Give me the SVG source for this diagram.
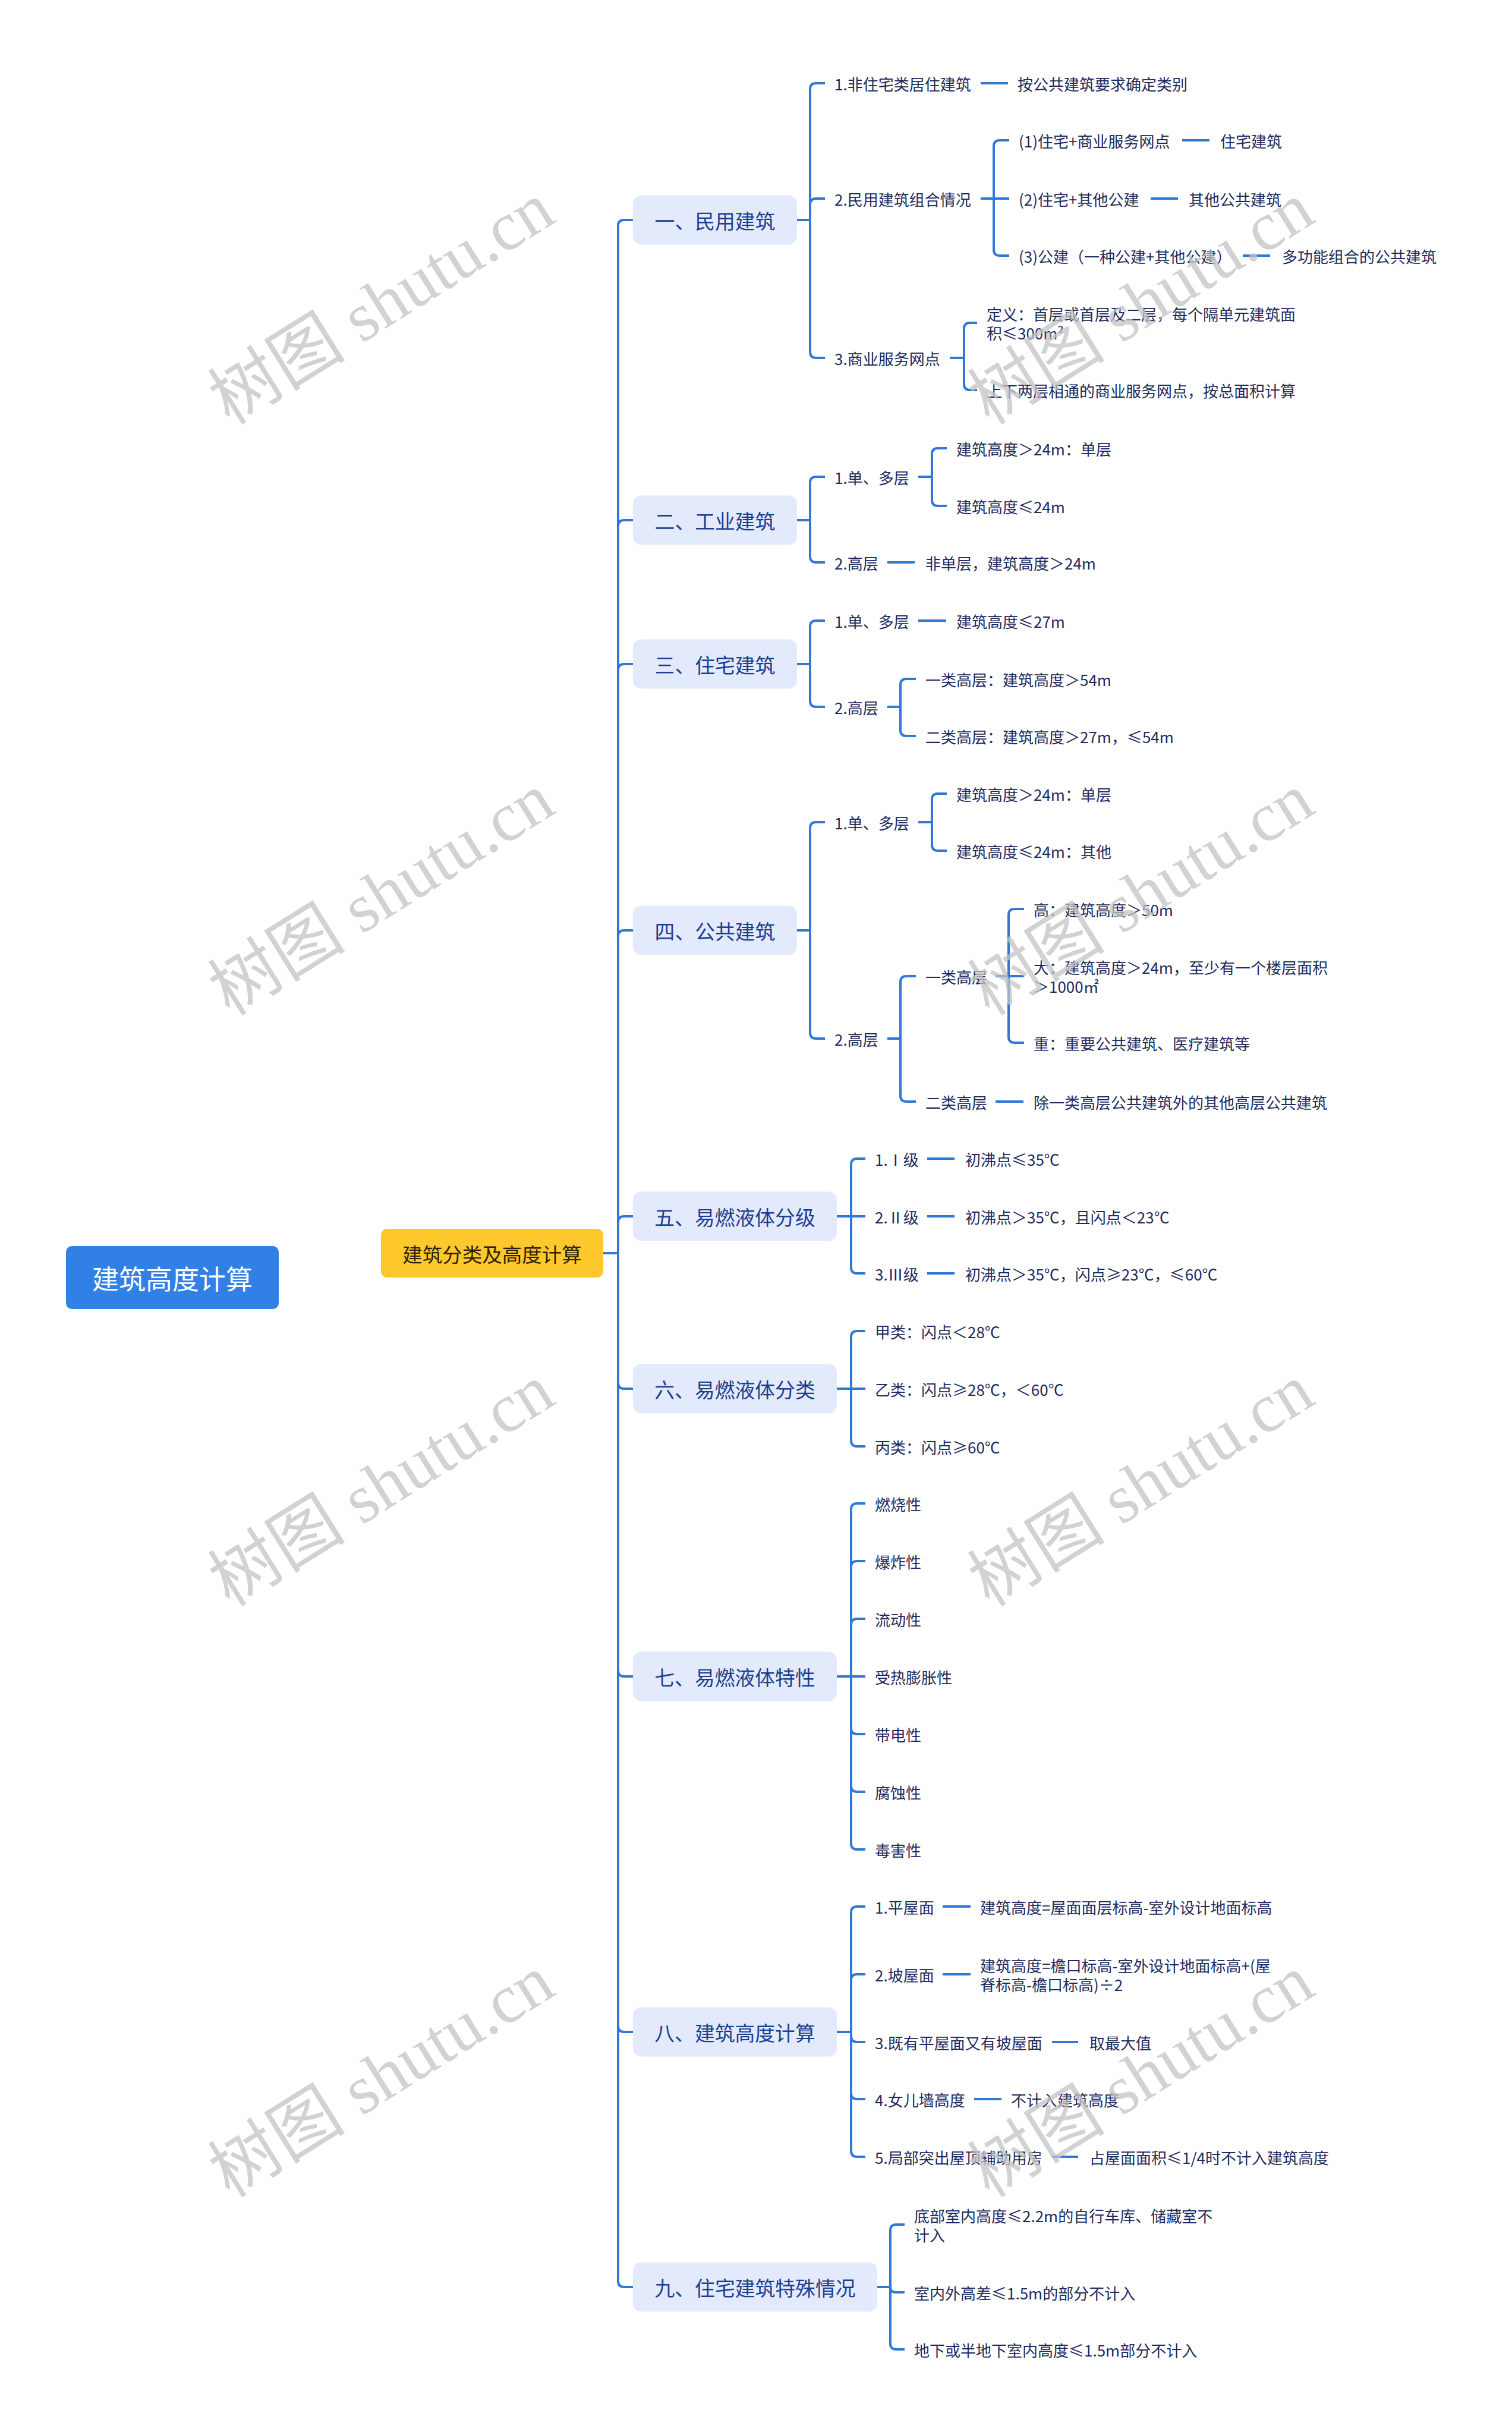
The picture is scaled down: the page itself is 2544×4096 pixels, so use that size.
<svg xmlns="http://www.w3.org/2000/svg" width="2544" height="4096" viewBox="0 0 2544 4096">
<style>
text { font-family: "Noto Sans CJK SC", "Noto Sans", sans-serif; dominant-baseline: central; }
.t2 { font-size: 26px; fill: #1D2A5C; }
.t1 { font-size: 33.8px; fill: #1C3E91; text-anchor: middle; }
.b1 { fill: #E3EAFB; }
.c { fill: none; stroke: #2F78D8; stroke-width: 4; }
.wm { font-family: "Liberation Serif", "Noto Sans CJK SC", serif; font-size: 116px; fill: #C4C4C4; opacity: 0.75; text-anchor: middle; }
</style>
<rect width="2544" height="4096" fill="#FFFFFF"/>

<g id="connectors">
<path class="c" d="M1015 2108 H1040 V380 Q1040 370 1050 370 H1065"/>
<path class="c" d="M1015 2108 H1040 V885 Q1040 875 1050 875 H1065"/>
<path class="c" d="M1015 2108 H1040 V1127 Q1040 1117 1050 1117 H1065"/>
<path class="c" d="M1015 2108 H1040 V1575 Q1040 1565 1050 1565 H1065"/>
<path class="c" d="M1015 2108 H1040 V2056 Q1040 2046 1050 2046 H1065"/>
<path class="c" d="M1015 2108 H1040 V2326 Q1040 2336 1050 2336 H1065"/>
<path class="c" d="M1015 2108 H1040 V2810 Q1040 2820 1050 2820 H1065"/>
<path class="c" d="M1015 2108 H1040 V3408 Q1040 3418 1050 3418 H1065"/>
<path class="c" d="M1015 2108 H1040 V3837 Q1040 3847 1050 3847 H1065"/>

<path class="c" d="M1341 370 H1363 V150 Q1363 140 1373 140 H1388"/>
<path class="c" d="M1341 370 H1363 V344 Q1363 334 1373 334 H1388"/>
<path class="c" d="M1341 370 H1363 V592 Q1363 602 1373 602 H1388"/>
<path class="c" d="M1650 140 H1696"/>
<path class="c" d="M1650 334 H1672 V246 Q1672 236 1682 236 H1698"/>
<path class="c" d="M1650 334 H1698"/>
<path class="c" d="M1650 334 H1672 V420 Q1672 430 1682 430 H1698"/>
<path class="c" d="M1989 236 H2035"/>
<path class="c" d="M1936 334 H1982"/>
<path class="c" d="M2091 430 H2137"/>
<path class="c" d="M1598 602 H1622 V553 Q1622 543 1632 543 H1644"/>
<path class="c" d="M1598 602 H1622 V646 Q1622 656 1632 656 H1644"/>

<path class="c" d="M1341 875 H1363 V812 Q1363 802 1373 802 H1388"/>
<path class="c" d="M1341 875 H1363 V936 Q1363 946 1373 946 H1388"/>
<path class="c" d="M1545 802 H1568 V764 Q1568 754 1578 754 H1593"/>
<path class="c" d="M1545 802 H1568 V841 Q1568 851 1578 851 H1593"/>
<path class="c" d="M1493 946 H1539"/>

<path class="c" d="M1341 1117 H1363 V1054 Q1363 1044 1373 1044 H1388"/>
<path class="c" d="M1341 1117 H1363 V1179 Q1363 1189 1373 1189 H1388"/>
<path class="c" d="M1545 1044 H1592"/>
<path class="c" d="M1493 1189 H1515 V1152 Q1515 1142 1525 1142 H1541"/>
<path class="c" d="M1493 1189 H1515 V1228 Q1515 1238 1525 1238 H1541"/>

<path class="c" d="M1341 1565 H1363 V1393 Q1363 1383 1373 1383 H1388"/>
<path class="c" d="M1341 1565 H1363 V1737 Q1363 1747 1373 1747 H1388"/>
<path class="c" d="M1545 1383 H1568 V1345 Q1568 1335 1578 1335 H1593"/>
<path class="c" d="M1545 1383 H1568 V1421 Q1568 1431 1578 1431 H1593"/>
<path class="c" d="M1493 1747 H1515 V1652 Q1515 1642 1525 1642 H1541"/>
<path class="c" d="M1493 1747 H1515 V1843 Q1515 1853 1525 1853 H1541"/>
<path class="c" d="M1675 1642 H1697 V1539 Q1697 1529 1707 1529 H1723"/>
<path class="c" d="M1675 1642 H1723"/>
<path class="c" d="M1675 1642 H1697 V1744 Q1697 1754 1707 1754 H1723"/>
<path class="c" d="M1675 1853 H1722"/>

<path class="c" d="M1408 2046 H1432 V1959 Q1432 1949 1442 1949 H1456"/>
<path class="c" d="M1408 2046 H1456"/>
<path class="c" d="M1408 2046 H1432 V2132 Q1432 2142 1442 2142 H1456"/>
<path class="c" d="M1560 1949 H1606"/>
<path class="c" d="M1560 2046 H1606"/>
<path class="c" d="M1560 2142 H1606"/>

<path class="c" d="M1408 2336 H1432 V2249 Q1432 2239 1442 2239 H1456"/>
<path class="c" d="M1408 2336 H1456"/>
<path class="c" d="M1408 2336 H1432 V2423 Q1432 2433 1442 2433 H1456"/>

<path class="c" d="M1408 2820 H1432 V2539 Q1432 2529 1442 2529 H1456"/>
<path class="c" d="M1408 2820 H1432 V2636 Q1432 2626 1442 2626 H1456"/>
<path class="c" d="M1408 2820 H1432 V2733 Q1432 2723 1442 2723 H1456"/>
<path class="c" d="M1408 2820 H1456"/>
<path class="c" d="M1408 2820 H1432 V2907 Q1432 2917 1442 2917 H1456"/>
<path class="c" d="M1408 2820 H1432 V3004 Q1432 3014 1442 3014 H1456"/>
<path class="c" d="M1408 2820 H1432 V3101 Q1432 3111 1442 3111 H1456"/>

<path class="c" d="M1408 3418 H1432 V3217 Q1432 3207 1442 3207 H1456"/>
<path class="c" d="M1408 3418 H1432 V3331 Q1432 3321 1442 3321 H1456"/>
<path class="c" d="M1408 3418 H1432 V3425 Q1432 3435 1442 3435 H1456"/>
<path class="c" d="M1408 3418 H1432 V3521 Q1432 3531 1442 3531 H1456"/>
<path class="c" d="M1408 3418 H1432 V3618 Q1432 3628 1442 3628 H1456"/>
<path class="c" d="M1586 3207 H1633"/>
<path class="c" d="M1586 3321 H1633"/>
<path class="c" d="M1770 3435 H1814"/>
<path class="c" d="M1639 3531 H1685"/>
<path class="c" d="M1770 3628 H1814"/>

<path class="c" d="M1476 3847 H1498 V3752 Q1498 3742 1508 3742 H1522"/>
<path class="c" d="M1476 3847 H1498 Q1498 3856 1507 3856 H1522"/>
<path class="c" d="M1476 3847 H1498 V3942 Q1498 3952 1508 3952 H1522"/>
</g>

<g id="root">
<rect x="111" y="2096" width="358" height="106" rx="10" fill="#3180E6"/>
<text x="290" y="2149" font-size="45" fill="#FFFFFF" text-anchor="middle">建筑高度计算</text>
</g>
<g id="center">
<rect x="641" y="2067" width="374" height="82" rx="10" fill="#FFC82C"/>
<text x="828" y="2108" font-size="33.5" fill="#2B2200" text-anchor="middle">建筑分类及高度计算</text>
</g>

<g id="n1"><rect class="b1" x="1065" y="328.5" width="276" height="83" rx="14"/><text class="t1" x="1203" y="370">一、民用建筑</text></g>
<g id="n2"><rect class="b1" x="1065" y="833.5" width="276" height="83" rx="14"/><text class="t1" x="1203" y="875">二、工业建筑</text></g>
<g id="n3"><rect class="b1" x="1065" y="1075.5" width="276" height="83" rx="14"/><text class="t1" x="1203" y="1117">三、住宅建筑</text></g>
<g id="n4"><rect class="b1" x="1065" y="1523.5" width="276" height="83" rx="14"/><text class="t1" x="1203" y="1565">四、公共建筑</text></g>
<g id="n5"><rect class="b1" x="1065" y="2004.5" width="343" height="83" rx="14"/><text class="t1" x="1236.5" y="2046">五、易燃液体分级</text></g>
<g id="n6"><rect class="b1" x="1065" y="2294.5" width="343" height="83" rx="14"/><text class="t1" x="1236.5" y="2336">六、易燃液体分类</text></g>
<g id="n7"><rect class="b1" x="1065" y="2778.5" width="343" height="83" rx="14"/><text class="t1" x="1236.5" y="2820">七、易燃液体特性</text></g>
<g id="n8"><rect class="b1" x="1065" y="3376.5" width="343" height="83" rx="14"/><text class="t1" x="1236.5" y="3418">八、建筑高度计算</text></g>
<g id="n9"><rect class="b1" x="1065" y="3805.5" width="411" height="83" rx="14"/><text class="t1" x="1270.5" y="3847">九、住宅建筑特殊情况</text></g>

<g id="s1">
<text class="t2" x="1404" y="140">1.非住宅类居住建筑</text>
<text class="t2" x="1712" y="140">按公共建筑要求确定类别</text>
<text class="t2" x="1404" y="334">2.民用建筑组合情况</text>
<text class="t2" x="1714" y="236">(1)住宅+商业服务网点</text>
<text class="t2" x="2053" y="236">住宅建筑</text>
<text class="t2" x="1714" y="334">(2)住宅+其他公建</text>
<text class="t2" x="2000" y="334">其他公共建筑</text>
<text class="t2" x="1714" y="430">(3)公建（一种公建+其他公建）</text>
<text class="t2" x="2157" y="430">多功能组合的公共建筑</text>
<text class="t2" x="1404" y="602">3.商业服务网点</text>
<text class="t2" x="1660" y="527">定义：首层或首层及二层，每个隔单元建筑面</text>
<text class="t2" x="1660" y="559">积≤300m²</text>
<text class="t2" x="1660" y="656">上下两层相通的商业服务网点，按总面积计算</text>
</g>

<g id="s2">
<text class="t2" x="1404" y="802">1.单、多层</text>
<text class="t2" x="1609" y="754">建筑高度＞24m：单层</text>
<text class="t2" x="1609" y="851">建筑高度≤24m</text>
<text class="t2" x="1404" y="946">2.高层</text>
<text class="t2" x="1557" y="946">非单层，建筑高度＞24m</text>
</g>

<g id="s3">
<text class="t2" x="1404" y="1044">1.单、多层</text>
<text class="t2" x="1609" y="1044">建筑高度≤27m</text>
<text class="t2" x="1404" y="1189">2.高层</text>
<text class="t2" x="1557" y="1142">一类高层：建筑高度＞54m</text>
<text class="t2" x="1557" y="1238">二类高层：建筑高度＞27m，≤54m</text>
</g>

<g id="s4">
<text class="t2" x="1404" y="1383">1.单、多层</text>
<text class="t2" x="1609" y="1335">建筑高度＞24m：单层</text>
<text class="t2" x="1609" y="1431">建筑高度≤24m：其他</text>
<text class="t2" x="1404" y="1747">2.高层</text>
<text class="t2" x="1557" y="1642">一类高层</text>
<text class="t2" x="1739" y="1529">高：建筑高度＞50m</text>
<text class="t2" x="1739" y="1626">大：建筑高度＞24m，至少有一个楼层面积</text>
<text class="t2" x="1739" y="1658">＞1000㎡</text>
<text class="t2" x="1739" y="1754">重：重要公共建筑、医疗建筑等</text>
<text class="t2" x="1557" y="1853">二类高层</text>
<text class="t2" x="1739" y="1853">除一类高层公共建筑外的其他高层公共建筑</text>
</g>

<g id="s5">
<text class="t2" x="1472" y="1949">1.Ⅰ级</text>
<text class="t2" x="1624" y="1949">初沸点≤35℃</text>
<text class="t2" x="1472" y="2046">2.Ⅱ级</text>
<text class="t2" x="1624" y="2046">初沸点＞35℃，且闪点＜23℃</text>
<text class="t2" x="1472" y="2142">3.Ⅲ级</text>
<text class="t2" x="1624" y="2142">初沸点＞35℃，闪点≥23℃，≤60℃</text>
</g>

<g id="s6">
<text class="t2" x="1472" y="2239">甲类：闪点＜28℃</text>
<text class="t2" x="1472" y="2336">乙类：闪点≥28℃，＜60℃</text>
<text class="t2" x="1472" y="2433">丙类：闪点≥60℃</text>
</g>

<g id="s7">
<text class="t2" x="1472" y="2529">燃烧性</text>
<text class="t2" x="1472" y="2626">爆炸性</text>
<text class="t2" x="1472" y="2723">流动性</text>
<text class="t2" x="1472" y="2820">受热膨胀性</text>
<text class="t2" x="1472" y="2917">带电性</text>
<text class="t2" x="1472" y="3014">腐蚀性</text>
<text class="t2" x="1472" y="3111">毒害性</text>
</g>

<g id="s8">
<text class="t2" x="1472" y="3207">1.平屋面</text>
<text class="t2" x="1649" y="3207">建筑高度=屋面面层标高-室外设计地面标高</text>
<text class="t2" x="1472" y="3321">2.坡屋面</text>
<text class="t2" x="1649" y="3305">建筑高度=檐口标高-室外设计地面标高+(屋</text>
<text class="t2" x="1649" y="3337">脊标高-檐口标高)÷2</text>
<text class="t2" x="1472" y="3435">3.既有平屋面又有坡屋面</text>
<text class="t2" x="1833" y="3435">取最大值</text>
<text class="t2" x="1472" y="3531">4.女儿墙高度</text>
<text class="t2" x="1701" y="3531">不计入建筑高度</text>
<text class="t2" x="1472" y="3628">5.局部突出屋顶辅助用房</text>
<text class="t2" x="1833" y="3628">占屋面面积≤1/4时不计入建筑高度</text>
</g>

<g id="s9">
<text class="t2" x="1538" y="3726">底部室内高度≤2.2m的自行车库、储藏室不</text>
<text class="t2" x="1538" y="3758">计入</text>
<text class="t2" x="1538" y="3856">室内外高差≤1.5m的部分不计入</text>
<text class="t2" x="1538" y="3952">地下或半地下室内高度≤1.5m部分不计入</text>
</g>

<g id="watermarks">
<text class="wm" x="642" y="511" transform="rotate(-32 642 511)">树图 shutu.cn</text>
<text class="wm" x="1920" y="511" transform="rotate(-32 1920 511)">树图 shutu.cn</text>
<text class="wm" x="642" y="1505" transform="rotate(-32 642 1505)">树图 shutu.cn</text>
<text class="wm" x="1920" y="1505" transform="rotate(-32 1920 1505)">树图 shutu.cn</text>
<text class="wm" x="642" y="2499" transform="rotate(-32 642 2499)">树图 shutu.cn</text>
<text class="wm" x="1920" y="2499" transform="rotate(-32 1920 2499)">树图 shutu.cn</text>
<text class="wm" x="642" y="3493" transform="rotate(-32 642 3493)">树图 shutu.cn</text>
<text class="wm" x="1920" y="3493" transform="rotate(-32 1920 3493)">树图 shutu.cn</text>
</g>
</svg>
